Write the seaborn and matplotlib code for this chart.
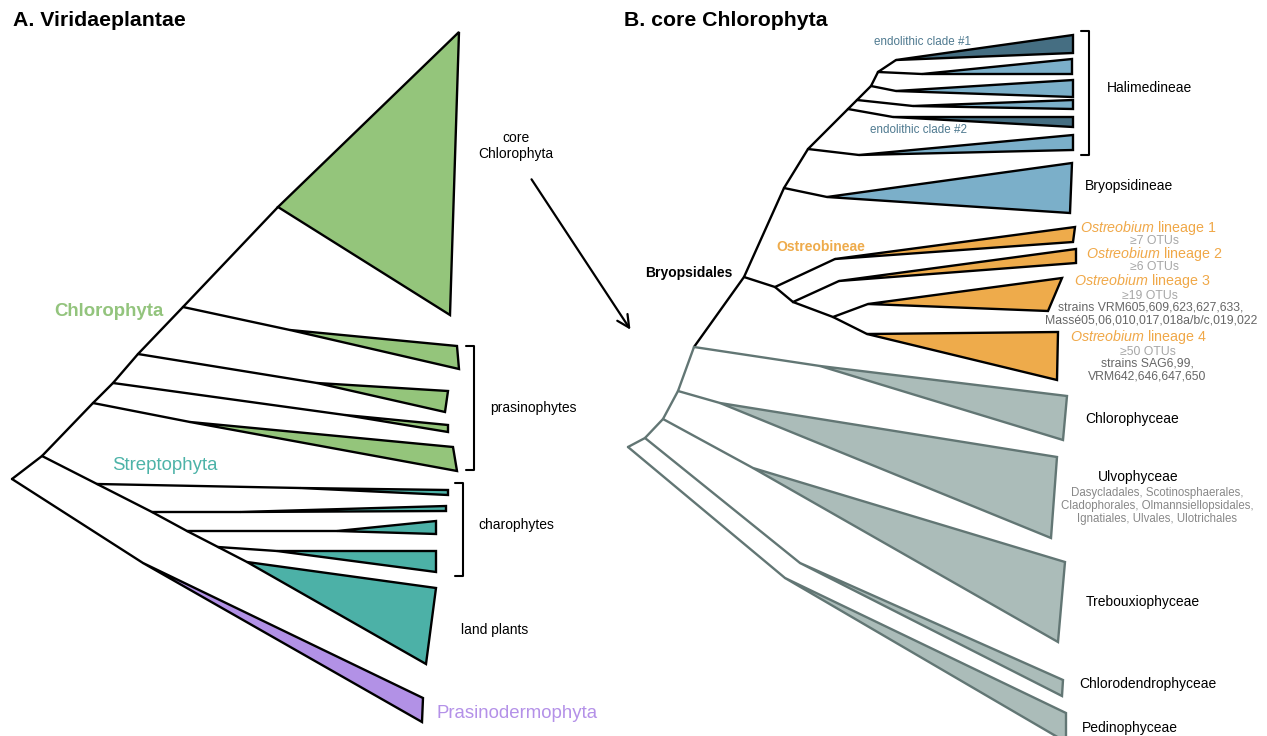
import matplotlib
matplotlib.use("Agg")
import matplotlib.pyplot as plt
import seaborn as sns
import pandas as pd

# ---- panel A: Viridiplantae (pixel coordinates of the reference figure) ----
a_branches = [
    [(12, 479), (42, 456)],
    [(42, 456), (93, 403), (113, 383), (138, 354), (183, 307), (278, 207)],
    [(183, 307), (290, 330)],
    [(138, 354), (317, 383)],
    [(113, 383), (345, 415)],
    [(93, 403), (190, 422)],
    [(42, 456), (97, 484), (152, 512), (187, 531), (218, 547), (247, 562)],
    [(97, 484), (300, 488)],
    [(152, 512), (240, 512)],
    [(187, 531), (337, 531)],
    [(218, 547), (277, 551)],
    [(12, 479), (143, 563)],
]
a_clades = ["core Chlorophyta", "prasino 1", "prasino 2", "prasino 3", "prasino 4",
            "charo 1", "charo 2", "charo 3", "charo 4", "land plants", "Prasinodermophyta"]
a_group = ["chloro"] * 5 + ["strepto"] * 5 + ["prasinoderm"]
a_apex = [(278, 207), (290, 330), (317, 383), (345, 415), (190, 422),
          (300, 488), (240, 512), (337, 531), (277, 551), (247, 562), (143, 563)]
a_top = [(459, 32), (457, 346), (448, 391), (448, 425), (453, 447),
         (448, 490), (446, 506), (436, 521), (436, 551), (436, 588), (423, 698)]
a_bottom = [(450, 315), (459, 369), (445, 412), (448, 432), (457, 471),
            (448, 495), (446, 511), (436, 534), (436, 572), (426, 664), (422, 722)]

# ---- panel B: core Chlorophyta ----
b_black_branches = [
    [(694, 347), (744, 277), (784, 188), (808, 149), (848, 109), (857, 100), (871, 86), (878, 72)],
    [(878, 72), (896, 60)],
    [(878, 72), (922, 74)],
    [(871, 86), (896, 91)],
    [(857, 100), (913, 106)],
    [(848, 109), (893, 117)],
    [(808, 149), (859, 155)],
    [(784, 188), (827, 197)],
    [(744, 277), (775, 287), (835, 259)],
    [(775, 287), (793, 302), (839, 281)],
    [(793, 302), (833, 317), (868, 304)],
    [(833, 317), (867, 334)],
]
b_gray_branches = [
    [(694, 347), (678, 391), (663, 419), (645, 438), (628, 447)],
    [(694, 347), (820, 366)],
    [(678, 391), (720, 403)],
    [(663, 419), (753, 468)],
    [(645, 438), (800, 563)],
    [(628, 447), (785, 578)],
]
b_clades = ["endolithic #1", "hal 2", "hal 3", "hal 4", "endolithic #2", "hal 6",
            "Bryopsidineae", "Ostreobium 1", "Ostreobium 2", "Ostreobium 3", "Ostreobium 4",
            "Chlorophyceae", "Ulvophyceae", "Trebouxiophyceae", "Chlorodendrophyceae",
            "Pedinophyceae"]
b_group = ["endo", "hal", "hal", "hal", "endo", "hal", "hal",
           "ostreo", "ostreo", "ostreo", "ostreo",
           "class", "class", "class", "class", "class"]
b_apex = [(896, 60), (922, 74), (896, 91), (913, 106), (893, 117), (859, 155),
          (827, 197), (835, 259), (839, 281), (868, 304), (867, 334),
          (820, 366), (720, 403), (753, 468), (800, 563), (785, 578)]
b_top = [(1073, 35), (1072, 59), (1073, 80), (1073, 100), (1073, 117), (1073, 135),
         (1072, 163), (1075, 227), (1076, 249), (1062, 278), (1058, 332),
         (1067, 396), (1057, 457), (1065, 562), (1063, 680), (1066, 713)]
b_bottom = [(1073, 53), (1072, 74), (1073, 97), (1073, 109), (1073, 127), (1073, 150),
            (1070, 213), (1073, 242), (1076, 263), (1048, 311), (1057, 380),
            (1063, 440), (1051, 538), (1058, 642), (1062, 696), (1066, 742)]

ostreo_names = ["lineage 1", "lineage 2", "lineage 3", "lineage 4"]
ostreo_otus = ["≥7 OTUs", "≥6 OTUs", "≥19 OTUs", "≥50 OTUs"]
ostreo_strains = ["", "", "strains VRM605,609,623,627,633,\nMassé05,06,010,017,018a/b/c,019,022",
                  "strains SAG6,99,\nVRM642,646,647,650"]
class_labels = ["Chlorophyceae", "Ulvophyceae", "Trebouxiophyceae",
                "Chlorodendrophyceae", "Pedinophyceae"]
ulvo_orders = "Dasycladales, Scotinosphaerales,\nCladophorales, Olmannsiellopsidales,\nIgnatiales, Ulvales, Ulotrichales"

fill_colors = {"chloro": "#94c57b", "strepto": "#4cb1a7", "prasinoderm": "#b291e6",
               "endo": "#456e82", "hal": "#7bafc9", "ostreo": "#eeab4b", "class": "#abbcb9"}
gray_line = "#627674"

sns.set_theme(style="white")
plt.rcParams["font.family"] = ["Liberation Sans", "DejaVu Sans"]
plt.rcParams["text.color"] = "black"
plt.rcParams["mathtext.fontset"] = "custom"
plt.rcParams["mathtext.it"] = "Liberation Sans:italic"
plt.rcParams["mathtext.rm"] = "Liberation Sans"

fig = plt.figure(figsize=(12.67, 7.36), dpi=100)
ax = fig.add_axes([0, 0, 1, 1])


def branches_frame(paths):
    rows = []
    for i, path in enumerate(paths):
        for j, (x, y) in enumerate(path):
            rows.append({"branch": i, "step": j, "x": x, "y": y})
    return pd.DataFrame(rows)


def draw_branches(paths, color):
    sns.lineplot(data=branches_frame(paths), x="x", y="y", units="branch",
                 estimator=None, sort=False, color=color, lw=1.7, ax=ax,
                 solid_joinstyle="miter", solid_capstyle="round")


def draw_clades(apex, top, bottom, groups, edge):
    for p, t, b, g in zip(apex, top, bottom, groups):
        xs = [p[0], t[0], b[0]]
        ys = [p[1], t[1], b[1]]
        ax.fill(xs, ys, facecolor=fill_colors[g], edgecolor=edge, lw=1.7,
                joinstyle="miter", zorder=3)


draw_branches(a_branches, "black")
draw_clades(a_apex, a_top, a_bottom, a_group, "black")
draw_branches(b_black_branches, "black")
draw_branches(b_gray_branches, gray_line)
draw_clades(b_apex[:11], b_top[:11], b_bottom[:11], b_group[:11], "black")
draw_clades(b_apex[11:], b_top[11:], b_bottom[11:], b_group[11:], gray_line)

# brackets
for x, y0, y1 in [(474, 346, 470), (463, 483, 576), (1089, 31, 155)]:
    ax.plot([x - 8, x, x, x - 8], [y0, y0, y1, y1], color="black", lw=1.5)

# titles
ax.text(13, 20, "A. Viridaeplantae", fontsize=15.3, fontweight="bold", va="center")
ax.text(624, 20, "B. core Chlorophyta", fontsize=15.3, fontweight="bold", va="center")

# panel A labels
ax.text(516, 146, "core\nChlorophyta", fontsize=10, ha="center", va="center", linespacing=1.15)
ax.text(490, 408, "prasinophytes", fontsize=10, va="center")
ax.text(478, 525, "charophytes", fontsize=10, va="center")
ax.text(461, 630, "land plants", fontsize=10, va="center")
ax.text(54, 312, "Chlorophyta", fontsize=13.4, fontweight="bold", color="#93c47d", va="center")
ax.text(112, 465, "Streptophyta", fontsize=13.4, color="#4db3a8", va="center")
ax.text(437, 713, "Prasinodermophyta", fontsize=13.4, color="#b491e8", va="center")

ax.annotate("", xy=(632, 332), xytext=(530, 177),
            arrowprops=dict(arrowstyle="->", lw=1.6, color="black", mutation_scale=22))

# panel B labels
ax.text(874, 42, "endolithic clade #1", fontsize=8.4, color="#4f7a90", va="center")
ax.text(870, 130, "endolithic clade #2", fontsize=8.4, color="#4f7a90", va="center")
ax.text(1107, 88, "Halimedineae", fontsize=10, va="center")
ax.text(1085, 186, "Bryopsidineae", fontsize=10, va="center")
ax.text(645, 273, "Bryopsidales", fontsize=10, fontweight="bold", va="center")
ax.text(776, 247, "Ostreobineae", fontsize=10, fontweight="bold", color="#eeab4b", va="center")

ostreo_name_xy = [(1148, 228), (1154, 254), (1142, 281), (1139, 337)]
ostreo_otu_xy = [(1155, 241), (1155, 267), (1150, 296), (1148, 352)]
ostreo_strain_xy = [None, None, (1151, 314), (1147, 370)]
for name, otu, strain, nxy, oxy, sxy in zip(ostreo_names, ostreo_otus, ostreo_strains,
                                           ostreo_name_xy, ostreo_otu_xy, ostreo_strain_xy):
    ax.text(*nxy, r"$\it{Ostreobium}$ " + name, fontsize=10.3, color="#f0a848",
            ha="center", va="center")
    ax.text(*oxy, otu, fontsize=8.8, color="#a6a6a6", ha="center", va="center")
    if strain:
        ax.text(*sxy, strain, fontsize=8.8, color="#666666", ha="center", va="center",
                linespacing=1.05)

class_xy = [(1085, 419), (1098, 477), (1086, 602), (1079, 684), (1082, 728)]
for lab, (x, y) in zip(class_labels, class_xy):
    ax.text(x, y, lab, fontsize=10, va="center")
ax.text(1157, 506, ulvo_orders, fontsize=8.3, color="#888888", ha="center", va="center",
        linespacing=1.1)

ax.set_xlim(0, 1267)
ax.set_ylim(736, 0)
ax.axis("off")
if ax.get_legend() is not None:
    ax.get_legend().remove()
fig.savefig("out.png", dpi=100)
